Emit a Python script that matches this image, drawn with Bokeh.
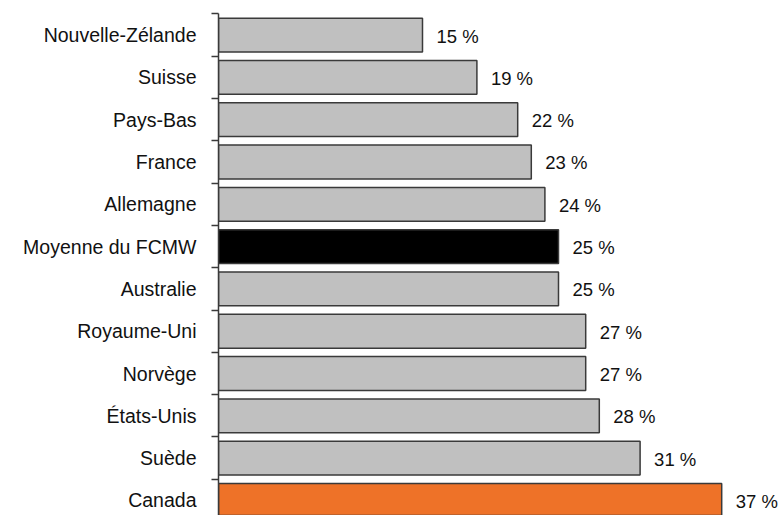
from bokeh.plotting import figure
from bokeh.models import ColumnDataSource, FixedTicker, Range1d
from bokeh.core.properties import value
from bokeh.embed import file_html
from bokeh.resources import INLINE

# Data (top to bottom)
countries = ["Nouvelle-Zélande", "Suisse", "Pays-Bas", "France", "Allemagne",
             "Moyenne du FCMW", "Australie", "Royaume-Uni", "Norvège",
             "États-Unis", "Suède", "Canada"]
values = [15, 19, 22, 23, 24, 25, 25, 27, 27, 28, 31, 37]
labels = ["15 %", "19 %", "22 %", "23 %", "24 %", "25 %", "25 %", "27 %",
          "27 %", "28 %", "31 %", "37 %"]

GRAY = "#C0C0C0"
BLACK = "#000000"
ORANGE = "#EE7228"
colors = []
for c in countries:
    if c == "Canada":
        colors.append(ORANGE)
    elif c == "Moyenne du FCMW":
        colors.append(BLACK)
    else:
        colors.append(GRAY)

n = len(countries)
ypos = [n - 1 - i for i in range(n)]

src = ColumnDataSource(dict(y=ypos, v=values, lab=labels, col=colors, name=countries))

p = figure(width=779, height=515, output_backend="svg", toolbar_location=None,
           x_range=Range1d(0, 41.25), y_range=Range1d(-0.356, 11.51),
           min_border_left=218, min_border_right=0, min_border_top=13,
           min_border_bottom=0)
p.outline_line_color = None
p.xgrid.visible = False
p.ygrid.visible = False
p.xaxis.visible = False
p.background_fill_color = "white"
p.border_fill_color = "white"

p.hbar(y="y", left=0, right="v", height=0.8, fill_color="col",
       line_color="#3A3A3A", line_width=1.5, source=src)

p.text(x="v", y="y", text="lab", x_offset=14, y_offset=1,
       text_font=value("Liberation Sans"), text_font_size="18.5px",
       text_baseline="middle", text_align="left", text_color="#111111",
       source=src)

ax = p.yaxis[0]
bounds = [y + 0.5 for y in ypos]
ax.ticker = FixedTicker(ticks=ypos, minor_ticks=bounds)
ax.major_label_overrides = {y: c for y, c in zip(ypos, countries)}
ax.major_tick_line_color = None
ax.major_tick_out = 0
ax.major_tick_in = 0
ax.minor_tick_out = 7
ax.minor_tick_in = 0
ax.minor_tick_line_color = "#3A3A3A"
ax.minor_tick_line_width = 1.5
ax.axis_line_color = "#3A3A3A"
ax.axis_line_width = 1.5
ax.major_label_standoff = 15
ax.major_label_text_font = "Liberation Sans"
ax.major_label_text_font_size = "19.5px"
ax.major_label_text_color = "#111111"

open("out.html", "w").write(file_html(p, INLINE))
